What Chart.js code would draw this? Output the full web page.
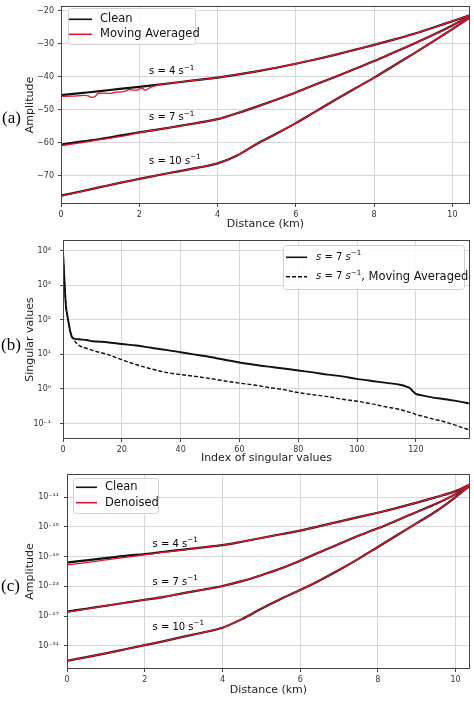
<!DOCTYPE html>
<html><head><meta charset="utf-8">
<script src="https://cdn.jsdelivr.net/npm/chart.js@4.4.0/dist/chart.umd.min.js"></script>
<style>
html,body{margin:0;padding:0;background:#fff;width:474px;height:701px;overflow:hidden;position:relative;}
canvas{position:absolute;left:0;}
.lab{position:absolute;font-family:"Liberation Serif","DejaVu Serif",serif;font-size:17px;color:#000;line-height:20px;}
</style></head><body>
<canvas id="ca" style="top:0px" width="474" height="235"></canvas>
<canvas id="cb" style="top:235px" width="474" height="235"></canvas>
<canvas id="cc" style="top:462px" width="474" height="239"></canvas>
<div class="lab" style="left:2px;top:108px">(a)</div>
<div class="lab" style="left:1px;top:335px">(b)</div>
<div class="lab" style="left:1px;top:576px">(c)</div>
<script>
// ---------- Panel (a) data: linear amplitude vs distance ----------
const distA = [0,0.5,1,1.5,2,2.5,3,3.5,4,4.5,5,5.5,6,6.5,7,7.5,8,8.5,9,9.5,10,10.45];
const a4Clean  = [-45.5,-44.9,-44.3,-43.6,-43.0,-42.3,-41.6,-40.9,-40.2,-39.3,-38.3,-37.2,-36.0,-34.7,-33.3,-31.8,-30.3,-28.7,-27.0,-25.1,-23.1,-21.3];
const a7Clean  = [-60.5,-59.6,-58.8,-57.8,-56.8,-55.9,-54.9,-53.9,-52.8,-51.0,-49.0,-46.9,-44.7,-42.3,-40.0,-37.6,-35.2,-32.6,-30.0,-27.3,-24.4,-21.6];
const a10Clean = [-76.0,-74.7,-73.4,-72.1,-70.9,-69.7,-68.6,-67.5,-66.2,-63.8,-60.3,-57.2,-54.0,-50.5,-47.0,-43.6,-40.2,-36.6,-33.0,-29.3,-25.5,-22.0];
const distA4MA = [0,0.3,0.6,0.7,0.75,0.85,0.95,1.1,1.25,1.4,1.5,1.65,1.75,1.85,1.95,2.03,2.1,2.15,2.28,2.5,3,3.5,4,4.5,5,5.5,6,6.5,7,7.5,8,8.5,9,9.5,10,10.45];
const a4MA = [-45.9,-45.8,-45.6,-45.7,-46.1,-46.1,-45.0,-44.9,-45.0,-44.6,-44.6,-44.3,-43.8,-44.0,-44.0,-43.4,-43.6,-44.0,-43.2,-42.4,-41.6,-40.9,-40.2,-39.3,-38.3,-37.2,-36.0,-34.7,-33.3,-31.8,-30.3,-28.7,-27.0,-25.1,-23.1,-21.3];
const a7MA  = [-60.8,-60.0,-59.0,-58.1,-56.9,-55.9,-54.9,-53.9,-52.8,-51.0,-49.0,-46.9,-44.7,-42.3,-40.0,-37.6,-35.2,-32.6,-30.0,-27.3,-24.4,-21.6];
const a10MA = [-76.1,-74.8,-73.4,-72.1,-70.9,-69.7,-68.6,-67.5,-66.2,-63.8,-60.3,-57.2,-54.0,-50.5,-47.0,-43.6,-40.2,-36.6,-33.0,-29.3,-25.5,-22.0];
const ticksAX = [0,2,4,6,8,10];
const ticksAY = [-70,-60,-50,-40,-30,-20];

// ---------- Panel (b) data: singular values ----------
const indexB = [0,0.3,0.6,1,1.5,2,2.5,3,3.5,4,6,8,10,15,20,25,30,35,40,45,50,55,60,65,70,75,80,85,90,95,100,105,110,115,117,118,119,120,122,125,130,135,138];
const svClean = [9000,3000,900,250,130,75,45,32,29,28,27,26,24,22.5,20,18,15.5,13.5,11.5,9.8,8.4,7,5.8,5.0,4.4,3.9,3.4,3.0,2.6,2.3,1.95,1.7,1.5,1.3,1.15,1.05,0.85,0.72,0.65,0.58,0.5,0.43,0.38];
const svMA    = [9000,3000,900,250,130,75,45,32,29,24,17,15,13,10,7,5,3.8,3.0,2.6,2.3,2.0,1.7,1.47,1.3,1.1,0.95,0.78,0.68,0.6,0.5,0.44,0.37,0.3,0.25,0.22,0.21,0.2,0.18,0.165,0.14,0.11,0.08,0.066];
const ticksBX = [0,20,40,60,80,100,120];
const ticksBY = [0.1,1,10,100,1000,10000];

// ---------- Panel (c) data: log10 of amplitude vs distance ----------
const distC = [0,0.5,1,1.5,2,2.5,3,3.5,4,4.5,5,5.5,6,6.5,7,7.5,8,8.5,9,9.5,10,10.37];
const c4CleanExp  = [-19.8,-19.5,-19.2,-18.9,-18.65,-18.35,-18.05,-17.75,-17.45,-17.0,-16.5,-16.0,-15.5,-14.9,-14.3,-13.7,-13.1,-12.45,-11.75,-11.0,-10.2,-9.3];
const c7CleanExp  = [-26.4,-26.0,-25.6,-25.2,-24.8,-24.4,-23.9,-23.45,-22.95,-22.3,-21.5,-20.6,-19.55,-18.4,-17.3,-16.2,-15.2,-14.1,-13.0,-11.9,-10.6,-9.35];
const c10CleanExp = [-33.0,-32.5,-32.0,-31.45,-30.9,-30.35,-29.75,-29.2,-28.55,-27.4,-26.0,-24.7,-23.5,-22.2,-20.8,-19.3,-17.7,-16.1,-14.5,-12.9,-11.0,-9.45];
const c4DenExp    = [-20.1,-19.8,-19.45,-19.1,-18.75,-18.4,-18.1,-17.75,-17.45,-17.0,-16.5,-16.0,-15.5,-14.9,-14.3,-13.7,-13.1,-12.45,-11.75,-11.0,-10.2,-9.3];
const c7DenExp    = [-26.45,-26.05,-25.6,-25.2,-24.8,-24.4,-23.9,-23.45,-22.95,-22.3,-21.5,-20.6,-19.55,-18.4,-17.3,-16.2,-15.2,-14.1,-13.0,-11.9,-10.6,-9.35];
const c10DenExp   = [-33.0,-32.5,-32.0,-31.45,-30.9,-30.35,-29.75,-29.2,-28.55,-27.4,-26.0,-24.7,-23.5,-22.2,-20.8,-19.3,-17.7,-16.1,-14.5,-12.9,-11.0,-9.45];
const ticksCX = [0,2,4,6,8,10];
const ticksCYExp = [-31,-27,-23,-19,-15,-11];

// ---------- helpers ----------
const RED = 'rgb(226,22,44)';
const BLACK = '#111';
const FONT = '"DejaVu Sans", sans-serif';
const pts = (xs, ys) => xs.map((x, i) => ({x: x, y: ys[i]}));
const pow10 = e => Math.pow(10, e);
const SUP = {'0':'⁰','1':'¹','2':'²','3':'³','4':'⁴','5':'⁵','6':'⁶','7':'⁷','8':'⁸','9':'⁹','-':'⁻'};
const sup = n => String(n).split('').map(c => SUP[c]).join('');
const logLabel = v => '10' + sup(Math.round(Math.log10(v)));
const minus = v => String(v).replace('-', '\u2212');

function drawRich(ctx, x, y, parts, size) {
  let cx = x;
  for (const p of parts) {
    const base = p.fs || size;
    const fs = p.sup ? base * 0.72 : base;
    ctx.font = (p.italic ? 'italic ' : '') + fs + 'px ' + FONT;
    ctx.fillText(p.t, cx, y + (p.sup ? -base * 0.4 : 0));
    cx += ctx.measureText(p.t).width;
  }
}
const sLabel = (n, fs, italic, extra) => {
  const a = [{t:'s', italic:italic, fs:fs},{t:' = ' + n + ' ', fs:fs},{t:'s', italic:italic, fs:fs},{t:'\u22121', sup:true, fs:fs}];
  if (extra) a.push({t: extra});
  return a;
};

const decor = {
  id: 'decor',
  afterDraw(chart, args, o) {
    const ctx = chart.ctx, ca = chart.chartArea, sx = chart.scales.x, sy = chart.scales.y;
    ctx.save();
    ctx.fillStyle = '#000';
    ctx.textBaseline = 'middle';
    ctx.textAlign = 'left';
    (o.curveLabels || []).forEach(l => {
      drawRich(ctx, sx.getPixelForValue(l.x), sy.getPixelForValue(l.y), l.parts, 10);
    });
    ctx.strokeStyle = '#444';
    ctx.lineWidth = 1;
    ctx.strokeRect(Math.round(ca.left) + 0.5, Math.round(ca.top) + 0.5, Math.round(ca.right - ca.left) - 1, Math.round(ca.bottom - ca.top) - 1);
    const lg = o.legend;
    if (lg) {
      const bx = ca.left + lg.box[0], by = ca.top + lg.box[1], bw = lg.box[2], bh = lg.box[3];
      ctx.beginPath();
      ctx.roundRect(bx + 0.5, by + 0.5, bw, bh, 3);
      ctx.fillStyle = 'rgba(255,255,255,0.85)';
      ctx.fill();
      ctx.strokeStyle = '#cfcfcf';
      ctx.stroke();
      lg.items.forEach(it => {
        const yy = ca.top + it.y;
        ctx.beginPath();
        ctx.setLineDash(it.dash || []);
        ctx.strokeStyle = it.color;
        ctx.lineWidth = 1.6;
        ctx.moveTo(ca.left + lg.lineX[0], yy);
        ctx.lineTo(ca.left + lg.lineX[1], yy);
        ctx.stroke();
        ctx.setLineDash([]);
        ctx.fillStyle = '#111';
        drawRich(ctx, ca.left + lg.textX, yy, it.parts, lg.font || 11.5);
      });
    }
    ctx.restore();
  }
};

function axisBase(ticksArr, fmt, size, titleText, titlePad, isY, pad) {
  return {
    afterBuildTicks: s => { s.ticks = ticksArr.map(v => ({value: v})); },
    afterFit: s => {
      if (isY) s.width = size; else s.height = size;
      s.paddingTop = 0; s.paddingBottom = 0; s.paddingLeft = 0; s.paddingRight = 0;
    },
    ticks: {autoSkip: false, maxRotation: 0, font: {family: FONT, size: 8}, color: '#333', padding: pad, callback: v => fmt(v)},
    grid: {color: '#d6d6d6', lineWidth: 1, tickLength: 3, tickColor: '#444', drawTicks: true},
    border: {display: false},
    title: {display: true, text: titleText, font: {family: FONT, size: 11}, color: '#222', padding: titlePad}
  };
}

function lineDs(data, color, width, order, dash) {
  return {data: data, borderColor: color, borderWidth: width, pointRadius: 0, fill: false,
          cubicInterpolationMode: 'monotone', order: order, borderDash: dash || []};
}

const common = {responsive: false, animation: false, events: []};

// ---------- Chart (a) ----------
new Chart(document.getElementById('ca'), {
  type: 'line',
  data: {datasets: [
    lineDs(pts(distA, a4Clean), BLACK, 2.2, 2),
    lineDs(pts(distA, a7Clean), BLACK, 2.2, 2),
    lineDs(pts(distA, a10Clean), BLACK, 2.2, 2),
    lineDs(pts(distA4MA, a4MA), RED, 1.3, 1),
    lineDs(pts(distA, a7MA), RED, 1.3, 1),
    lineDs(pts(distA, a10MA), RED, 1.3, 1)
  ]},
  options: Object.assign({}, common, {
    layout: {padding: {left: 0, top: 6, right: 4, bottom: 0}},
    scales: {
      x: Object.assign({type: 'linear', min: 0, max: 10.45}, axisBase(ticksAX, v => minus(v), 31, 'Distance (km)', 4, false, 3)),
      y: Object.assign({type: 'linear', min: -78.5, max: -18.5}, axisBase(ticksAY, v => minus(v), 61, 'Amplitude', 24, true, 4))
    },
    plugins: {
      legend: {display: false}, tooltip: {enabled: false},
      decor: {
        curveLabels: [
          {x: 2.25, y: -38.4, parts: sLabel(4, 10, false)},
          {x: 2.25, y: -52.4, parts: sLabel(7, 10, false)},
          {x: 2.25, y: -65.5, parts: sLabel(10, 10, false)}
        ],
        legend: {box: [7, 2, 127, 36], lineX: [8, 31], textX: 39, font: 11.5,
          items: [{y: 13.3, color: BLACK, parts: [{t: 'Clean'}]}, {y: 28.3, color: RED, parts: [{t: 'Moving Averaged'}]}]}
      }
    }
  }),
  plugins: [decor]
});

// ---------- Chart (b) ----------
new Chart(document.getElementById('cb'), {
  type: 'line',
  data: {datasets: [
    lineDs(pts(indexB, svClean), BLACK, 1.9, 1),
    lineDs(pts(indexB, svMA), BLACK, 1.4, 2, [4, 2])
  ]},
  options: Object.assign({}, common, {
    layout: {padding: {left: 0, top: 5, right: 4, bottom: 0}},
    scales: {
      x: Object.assign({type: 'linear', min: 0, max: 138.4}, axisBase(ticksBX, v => String(v), 31, 'Index of singular values', 5.5, false, 3)),
      y: Object.assign({type: 'logarithmic', min: 0.0355, max: 20400}, axisBase(ticksBY, logLabel, 63, 'Singular values', 24, true, 9))
    },
    plugins: {
      legend: {display: false}, tooltip: {enabled: false},
      decor: {
        legend: {box: [220, 5, 181, 44], lineX: [223, 244], textX: 253, font: 11.5,
          items: [{y: 17.3, color: BLACK, parts: sLabel(7, 10, true)}, {y: 36.7, color: BLACK, dash: [4, 2], parts: sLabel(7, 10, true, ', Moving Averaged')}]}
      }
    }
  }),
  plugins: [decor]
});

// ---------- Chart (c) ----------
new Chart(document.getElementById('cc'), {
  type: 'line',
  data: {datasets: [
    lineDs(pts(distC, c4CleanExp.map(pow10)), BLACK, 2.2, 2),
    lineDs(pts(distC, c7CleanExp.map(pow10)), BLACK, 2.2, 2),
    lineDs(pts(distC, c10CleanExp.map(pow10)), BLACK, 2.2, 2),
    lineDs(pts(distC, c4DenExp.map(pow10)), RED, 1.3, 1),
    lineDs(pts(distC, c7DenExp.map(pow10)), RED, 1.3, 1),
    lineDs(pts(distC, c10DenExp.map(pow10)), RED, 1.3, 1)
  ]},
  options: Object.assign({}, common, {
    layout: {padding: {left: 0, top: 12, right: 4, bottom: 0}},
    scales: {
      x: Object.assign({type: 'linear', min: 0, max: 10.37}, axisBase(ticksCX, v => String(v), 32, 'Distance (km)', 4.4, false, 3)),
      y: Object.assign({type: 'logarithmic', min: pow10(-34.1), max: pow10(-7.9)}, axisBase(ticksCYExp.map(pow10), logLabel, 67, 'Amplitude', 24, true, 5))
    },
    plugins: {
      legend: {display: false}, tooltip: {enabled: false},
      decor: {
        curveLabels: [
          {x: 2.2, y: pow10(-17.3), parts: sLabel(4, 10, false)},
          {x: 2.2, y: pow10(-22.4), parts: sLabel(7, 10, false)},
          {x: 2.2, y: pow10(-28.5), parts: sLabel(10, 10, false)}
        ],
        legend: {box: [6, 4, 85, 35], lineX: [9, 30], textX: 38, font: 11.5,
          items: [{y: 13.3, color: BLACK, parts: [{t: 'Clean'}]}, {y: 28.7, color: RED, parts: [{t: 'Denoised'}]}]}
      }
    }
  }),
  plugins: [decor]
});
</script>
</body></html>
